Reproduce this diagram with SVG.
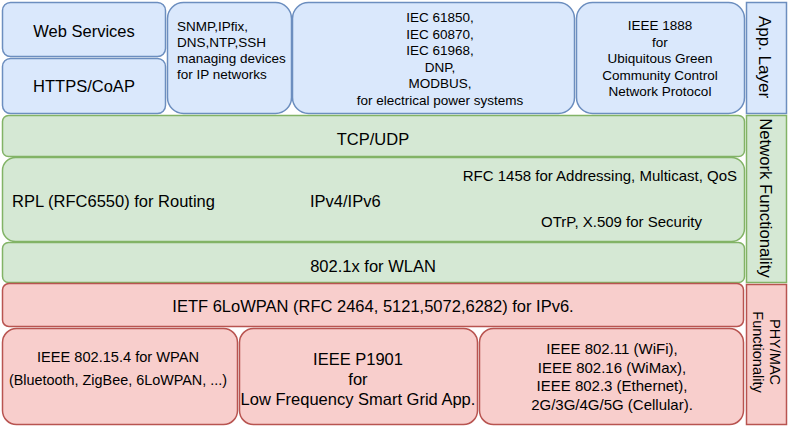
<svg xmlns="http://www.w3.org/2000/svg" width="789" height="426" viewBox="0 0 789 426">
<style>
.b{fill:#dae8fc;stroke:#6c8ebf;stroke-width:1.5}
.g{fill:#d5e8d4;stroke:#82b366;stroke-width:1.5}
.r{fill:#f8cecc;stroke:#b85450;stroke-width:1.5}
text{font-family:"Liberation Sans",Arial,sans-serif;fill:#000}
.l{font-size:16.5px}
.m{font-size:15px}
.s{font-size:13.5px}
.c{text-anchor:middle}
</style>
<rect width="789" height="426" fill="#fff"/>
<g id="web-services"><rect class="b" x="2.5" y="2.5" width="163" height="54" rx="8"/><text class="l c" x="84" y="37">Web Services</text></g>
<g id="https-coap"><rect class="b" x="2.5" y="58.5" width="163" height="55" rx="8"/><text class="l c" x="84" y="92">HTTPS/CoAP</text></g>
<g id="snmp"><rect class="b" x="167.5" y="2.5" width="124" height="111" rx="16"/>
<text class="s" x="177" y="31">SNMP,IPfix,</text><text class="s" x="177" y="47">DNS,NTP,SSH</text><text class="s" x="177" y="63">managing devices</text><text class="s" x="177" y="79">for IP networks</text></g>
<g id="iec"><rect class="b" x="292.5" y="2.5" width="282" height="111" rx="16"/>
<text class="s c" x="440" y="22">IEC 61850,</text><text class="s c" x="440" y="38.5">IEC 60870,</text><text class="s c" x="440" y="55">IEC 61968,</text><text class="s c" x="440" y="71.5">DNP,</text><text class="s c" x="440" y="88">MODBUS,</text><text class="s c" x="440" y="104.5">for electrical power systems</text></g>
<g id="ieee1888"><rect class="b" x="576.5" y="2.5" width="168" height="111" rx="16"/>
<text class="s c" x="660" y="30">IEEE 1888</text><text class="s c" x="660" y="46.5">for</text><text class="s c" x="660" y="63">Ubiquitous Green</text><text class="s c" x="660" y="79.5">Community Control</text><text class="s c" x="660" y="96">Network Protocol</text></g>
<g id="app-layer"><rect class="b" x="746.5" y="2.5" width="40" height="111"/><text class="c" style="font-size:17px" transform="translate(759,57) rotate(90)">App. Layer</text></g>
<g id="tcp-udp"><rect class="g" x="2.5" y="115.5" width="742" height="41" rx="6"/><text class="l c" x="373" y="145">TCP/UDP</text></g>
<g id="ipv4-ipv6"><rect class="g" x="2.5" y="157.5" width="742" height="84" rx="13"/>
<text class="l" x="12" y="207">RPL (RFC6550) for Routing</text><text class="l" x="310" y="207">IPv4/IPv6</text>
<text class="m" x="737" y="181" text-anchor="end">RFC 1458 for Addressing, Multicast, QoS</text><text class="m c" x="621.5" y="227">OTrP, X.509 for Security</text></g>
<g id="wlan"><rect class="g" x="2.5" y="242.5" width="742" height="40" rx="6"/><text class="l c" x="373" y="272">802.1x for WLAN</text></g>
<g id="network-functionality"><rect class="g" x="746.5" y="115.5" width="40" height="167"/><text class="c" style="font-size:16.7px" transform="translate(760,198) rotate(90)">Network Functionality</text></g>
<g id="6lowpan"><rect class="r" x="2.5" y="283.5" width="741" height="43" rx="6.5"/><text class="l c" x="373" y="312">IETF 6LoWPAN (RFC 2464, 5121,5072,6282) for IPv6.</text></g>
<g id="ieee802154"><rect class="r" x="2.5" y="328.5" width="235" height="96" rx="14"/>
<text class="c" style="font-size:14.6px" x="118" y="362">IEEE 802.15.4 for WPAN</text><text class="c" style="font-size:14.4px" x="118" y="385">(Bluetooth, ZigBee, 6LoWPAN, ...)</text></g>
<g id="p1901"><rect class="r" x="239.5" y="328.5" width="238" height="96" rx="14"/>
<text class="l c" x="358" y="365">IEEE P1901</text><text class="l c" x="358" y="385">for</text><text class="l c" x="358" y="405">Low Frequency Smart Grid App.</text></g>
<g id="ieee80211"><rect class="r" x="479.5" y="328.5" width="264" height="96" rx="14"/>
<text class="m c" x="612" y="354">IEEE 802.11 (WiFi),</text><text class="m c" x="612" y="372.5">IEEE 802.16 (WiMax),</text><text class="m c" x="612" y="391">IEEE 802.3 (Ethernet),</text><text class="m c" x="612" y="409.5">2G/3G/4G/5G (Cellular).</text></g>
<g id="phy-mac"><rect class="r" x="746.5" y="284.5" width="40" height="140"/>
<text class="c" style="font-size:14.5px" transform="translate(770,352) rotate(90)">PHY/MAC</text><text class="c" style="font-size:14.5px" transform="translate(753,352) rotate(90)">Functionality</text></g>
<g id="connectors"></g>
</svg>
